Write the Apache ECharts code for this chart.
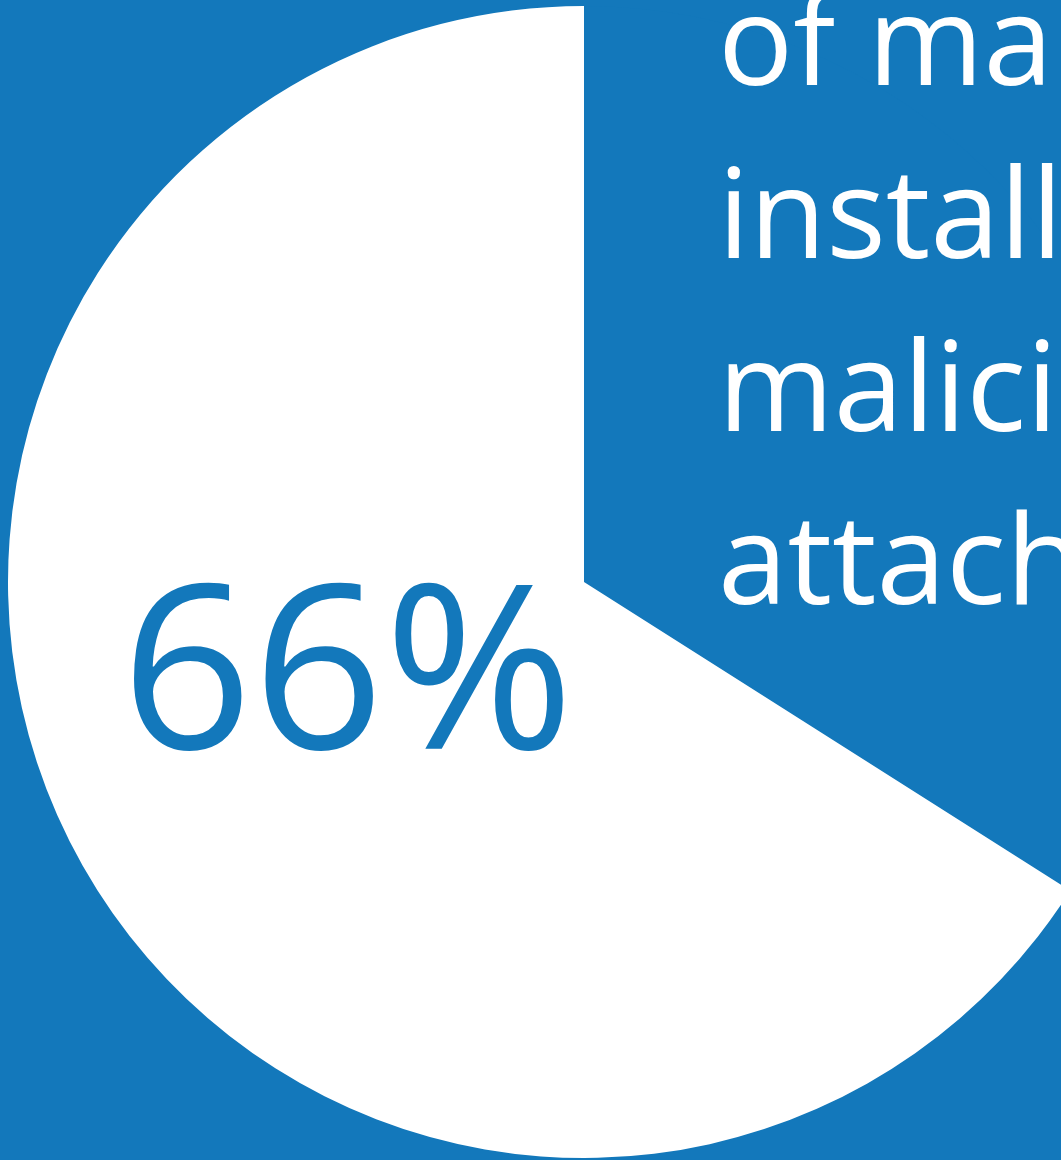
<!DOCTYPE html>
<html>
<head>
<meta charset="utf-8">
<script src="https://cdn.jsdelivr.net/npm/echarts@6/dist/echarts.min.js"></script>
<style>
html,body{margin:0;padding:0;background:#1378BB;overflow:hidden;}
#chart{width:1061px;height:1160px;}
</style>
</head>
<body>
<div id="chart"></div>
<script>
const categories = ['Other', 'Installed via malicious email attachments'];
const values = [34, 66];
const bigLabel = '66%';
const captionLines = ['of malware', 'installed via', 'malicious email', 'attachments'];

const BLUE = '#1378BB';
const chart = echarts.init(document.getElementById('chart'), null, {renderer: 'canvas'});

const graphics = [];
graphics.push({
  type: 'text', left: 121, top: 568, z: 10,
  style: { text: bigLabel, fill: BLUE, font: '230px "Open Sans"' }
});
captionLines.forEach((t, i) => {
  graphics.push({
    type: 'text', left: 718, top: -13 + i * 173, z: 10,
    style: { text: t, fill: '#ffffff', font: '125px "Open Sans"' }
  });
});

chart.setOption({
  backgroundColor: BLUE,
  animation: false,
  series: [{
    type: 'pie',
    center: [584, 582],
    radius: [0, 576],
    startAngle: 90,
    clockwise: true,
    label: { show: false },
    labelLine: { show: false },
    emphasis: { disabled: true },
    itemStyle: { borderWidth: 0 },
    data: categories.map((c, i) => ({
      name: c, value: values[i],
      itemStyle: { color: i === 0 ? BLUE : '#ffffff' }
    }))
  }],
  graphic: graphics
});
</script>
</body>
</html>
